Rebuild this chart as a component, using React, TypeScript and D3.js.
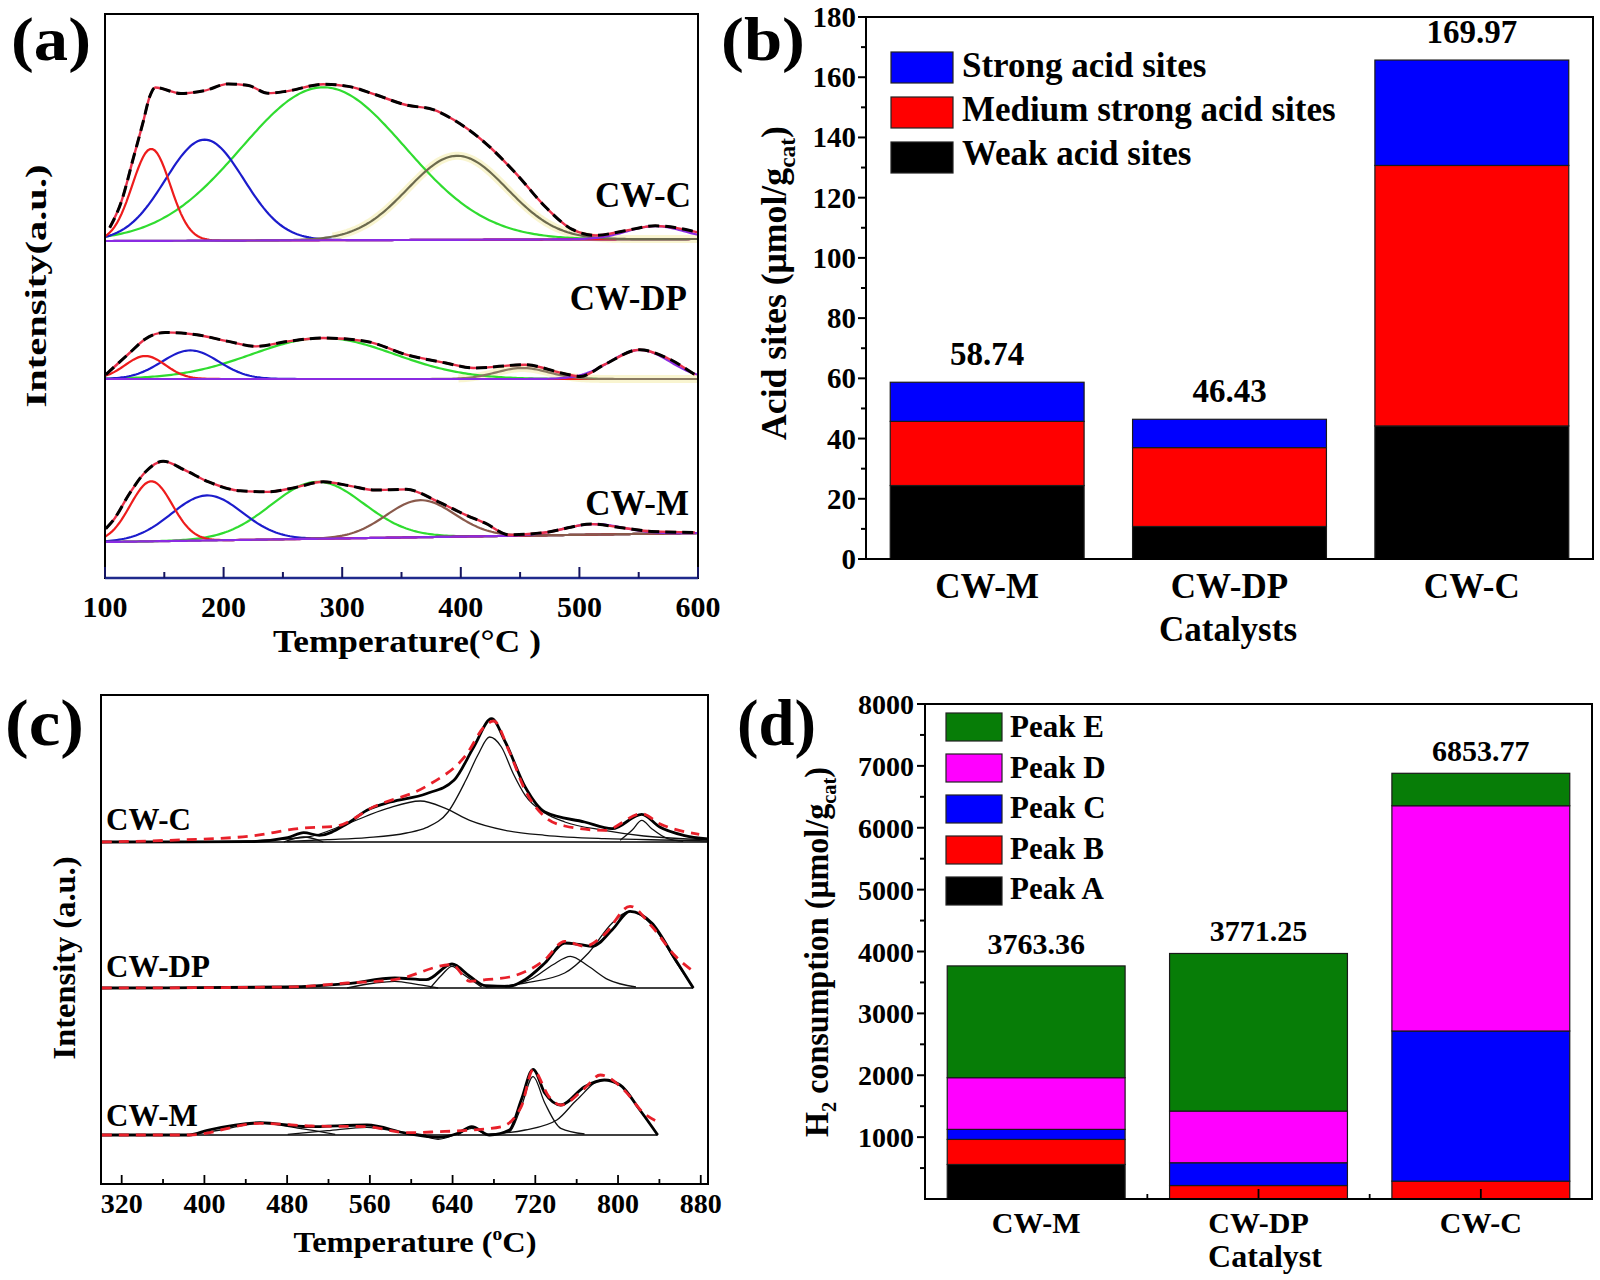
import React from 'react';
import * as d3 from 'd3';

const FONT = "'Liberation Serif', 'Times New Roman', Times, serif";

// ================= (a) NH3-TPD =================
const tpdTicks = [100, 200, 300, 400, 500, 600];
const tpdMinorTicks = [150, 250, 350, 450, 550];
const tpdSampleNames = ['CW-C', 'CW-DP', 'CW-M'];
// baseline level (a.u.) at 100 °C and at 600 °C
const tpdBaseCWC = [337, 339];
const tpdBaseCWDP = [199, 199];
const tpdBaseCWM = [36, 45];
// fitted gaussian peaks: [centre °C, height a.u., sigma °C]
const tpdPeaksCWC = [[139, 92, 16], [184, 101, 33], [284, 153, 69], [397, 84, 42], [564, 13, 24]];
const tpdPeaksCWDP = [[134, 23, 17], [172, 28.6, 24], [284, 41, 60], [452, 11, 22], [551, 29, 25]];
const tpdPeaksCWM = [[139, 60, 17.7], [186, 45, 30], [279, 57, 39], [366, 37, 29], [512, 10.5, 25]];
// measured profiles: [°C, height above baseline]
const tpdProfileCWC = [[104, 13.3], [114, 40], [124, 83.3], [132.4, 120], [137.4, 143.3], [142.4, 153.3], [164, 147.3], [184, 150], [204, 156.7], [221, 155], [237.4, 147.3], [254, 149.3], [284, 156], [307.4, 153.3], [327.4, 145.7], [354, 135], [377.4, 130], [394, 120], [420.7, 96.7], [447.4, 65], [470.8, 33.3], [494, 10], [514, 4], [537.4, 8.3], [564, 13.3], [600, 6.7]];
const tpdProfileCWDP = [[100.7, 4.3], [120.7, 26], [134, 40], [150.7, 46.6], [177.4, 44.3], [204, 37.6], [227.4, 32.6], [254, 37.6], [284, 41], [320.7, 37.6], [354, 24.3], [387.4, 16], [410.7, 11], [454, 14.3], [487.4, 5.3], [500.8, 2.6], [521, 14.3], [550.8, 29.3], [574, 21], [597.4, 4.3]];
const tpdProfileCWM = [[100.7, 13.4], [107, 21.6], [120.7, 48.1], [134, 69.4], [149, 79.9], [167.4, 70.6], [187.4, 58.5], [214, 49.1], [237.4, 47.7], [260.7, 51.7], [284, 56.9], [307.4, 52.2], [327.4, 47.9], [354, 48.1], [380.7, 35.3], [404, 21.6], [420.7, 13], [440.7, 1], [470.8, 2.8], [510.8, 10.5], [537.4, 6.1], [560.8, 2.3], [597.4, 0.6]];

// ================= (b) acid sites =================
const acidCategories = ['CW-M', 'CW-DP', 'CW-C'];
const weakAcid = [24.4, 10.8, 44.2];
const mediumAcid = [21.3, 26.2, 86.5];
const strongAcid = [13.0, 9.4, 35.0];
const acidTotalLabels = ['58.74', '46.43', '169.97'];
const acidTicks = [0, 20, 40, 60, 80, 100, 120, 140, 160, 180];
const acidMinorTicks = [10, 30, 50, 70, 90, 110, 130, 150, 170];
const acidLegend = ['Strong acid sites', 'Medium strong acid sites', 'Weak acid sites'];

// ================= (c) H2-TPR =================
const tprTicks = [320, 400, 480, 560, 640, 720, 800, 880];
const tprMinorTicks = [360, 440, 520, 600, 680, 760, 840];
const tprSampleNames = ['CW-C', 'CW-DP', 'CW-M'];
const tprOffsetCWC = 342;
const tprOffsetCWDP = 196;
const tprOffsetCWM = 49;
const tprBaseEndCWC = [300, 887];
const tprBaseEndCWDP = [300, 872.8];
const tprBaseEndCWM = [300, 838.4];
const tprMeasuredCWC = [[300.8, 0], [442.4, 0.3], [480.6, 4.3], [496, 9.3], [511.2, 6.7], [538, 18.3], [557.2, 31.7], [580, 40], [614.5, 48.3], [641.3, 61.7], [660.5, 95], [677.7, 123.3], [691, 100], [710.2, 55], [729.3, 30], [767.6, 20], [794.4, 13.3], [823, 27.7], [840.3, 15], [863.2, 6.7], [887, 3]];
const tprFitCWC = [[300.8, 0], [365.9, 1.7], [442.4, 5.7], [496, 14], [526.5, 15.7], [564.8, 35.7], [614.5, 55.7], [652.8, 86.7], [672, 116.7], [679.6, 121], [695, 90], [710.2, 51.7], [729.3, 25], [748.5, 16], [786.7, 11.7], [823, 28.3], [840.3, 18.3], [878.5, 7.7]];
const tprPeaksCWC = [
  [[476.8, 0], [496, 5], [515, 0]],
  [[400, 0], [442.4, 1], [499.8, 5], [538, 18.3], [576.3, 33.3], [608.8, 41], [633.7, 33.3], [656.6, 21.7], [691, 11.7], [729.3, 6.7], [786.7, 3.3], [863.2, 1.7], [887, 1]],
  [[480, 0.5], [518.9, 2.3], [557.2, 4.3], [595.4, 9], [614.5, 14.3], [635.6, 30], [652.8, 61.7], [664.3, 86.7], [675.8, 105], [687.2, 95], [698.7, 68.3], [710.2, 46.7], [729.3, 29], [748.5, 20], [786.7, 11.7], [825, 6], [886.2, 2.3]],
  [[802, 1.7], [813.5, 11.7], [823, 21.7], [832.6, 13.3], [848, 3.3], [863, 0.7]],
];
const tprMeasuredCWDP = [[300.8, 0], [480.6, 1], [538, 4.3], [584, 10], [614.5, 8.3], [639.4, 24], [656.6, 11.7], [672, 2.3], [695, 1.7], [710, 8.3], [729.3, 25], [748.4, 45], [763.8, 43.3], [775.2, 41.7], [794.4, 58.3], [811.6, 76.7], [832.6, 65], [855.6, 28.3], [872.8, 0]];
const tprFitCWDP = [[300.8, 0], [480.6, 1], [538, 5], [584, 8.3], [639.4, 23.3], [656.6, 6.7], [672, 8.3], [695, 11], [729.3, 28.3], [748.4, 46.7], [767.6, 41.7], [786.7, 53.3], [811.6, 81.7], [832.6, 61.7], [855.6, 31.7], [872.8, 16.7]];
const tprPeaksCWDP = [
  [[538, 0], [564.8, 5], [584, 6.7], [606.9, 3.3], [626, 0]],
  [[618.4, 0], [629.8, 13.3], [639.4, 21.7], [650.9, 13.3], [668.1, 1]],
  [[691, 1], [717.9, 10], [737, 23.3], [754, 31.7], [771.4, 21.7], [790.5, 8.3], [817.3, 1]],
  [[672, 0.7], [710.2, 5], [748.4, 15], [771.4, 35], [794.4, 65], [811.6, 76.7], [832.6, 63.3], [855.6, 26.7], [872.8, 0]],
];
const tprMeasuredCWM = [[300.8, 0], [385, 0], [404, 5], [453.8, 12.3], [499.8, 8.3], [557.2, 10], [595.4, 1.7], [626, -2.3], [645.2, 1.7], [658.5, 8.3], [675.8, 0], [695, 5], [706.4, 35], [717.8, 65.7], [729.3, 41.7], [744.6, 30], [767.6, 48.3], [786.7, 55], [802, 50], [821.1, 25], [838.4, 0]];
const tprFitCWM = [[300.8, 0], [385, 0], [453.8, 11.7], [503.6, 9], [557.2, 8.3], [595.4, 2.3], [626, 3.3], [658.5, 5], [687.2, 8.3], [706.4, 28.3], [717.8, 65], [733.2, 38.3], [744.6, 30], [767.6, 46.7], [782.9, 60], [805.8, 45], [825, 21.7], [838.4, 13.3]];
const tprPeaksCWM = [
  [[385, 0], [415.6, 5], [453.8, 11.7], [492, 6.7], [526.5, 0.7]],
  [[480.6, 0.7], [518.9, 4.3], [557.2, 7.7], [587.8, 3.3], [614.5, 0]],
  [[610.7, 0], [626, -4.3], [641.3, 0]],
  [[645.2, 0], [658.5, 6.7], [672, 0]],
  [[672, 0], [695, 3.3], [706.4, 28.3], [717.8, 58.3], [729.3, 31.7], [744.6, 6.7], [767.6, 1]],
  [[672, 0.7], [710.2, 5], [740.8, 15], [760, 35], [784.8, 55], [802, 50], [821.1, 25], [838.4, 0]],
];

// ================= (d) H2 consumption =================
const h2Categories = ['CW-M', 'CW-DP', 'CW-C'];
const peakA = [558, 0, 0];
const peakB = [405, 218, 288];
const peakC = [162, 368, 2427];
const peakD = [836, 835, 3641];
const peakE = [1806, 2547, 524];
const h2TotalLabels = ['3763.36', '3771.25', '6853.77'];
const h2Ticks = [1000, 2000, 3000, 4000, 5000, 6000, 7000, 8000];
const h2MinorTicks = [500, 1500, 2500, 3500, 4500, 5500, 6500, 7500];
const h2Legend = ['Peak E', 'Peak D', 'Peak C', 'Peak B', 'Peak A'];

type Pt = [number, number];

const T = (props: any) => (
  <text fontFamily={FONT} fontWeight="bold" fill="#000" {...props} />
);

function PanelA() {
  const x = d3.scaleLinear().domain([100, 600]).range([105, 698]);
  const y = d3.scaleLinear().domain([0, 564]).range([578, 14]);
  const colors = ['#ee1c1c', '#1c1ccc', '#30dc30', null, '#8a2be2'];
  const samples = [
    { name: tpdSampleNames[0], base: tpdBaseCWC, peaks: tpdPeaksCWC, prof: tpdProfileCWC, olive: '#6c6a4e', glow: true },
    { name: tpdSampleNames[1], base: tpdBaseCWDP, peaks: tpdPeaksCWDP, prof: tpdProfileCWDP, olive: '#8a7a62', glow: true },
    { name: tpdSampleNames[2], base: tpdBaseCWM, peaks: tpdPeaksCWM, prof: tpdProfileCWM, olive: '#8a5a4c', glow: false },
  ];
  const baseAt = (b: number[], t: number) => b[0] + ((b[1] - b[0]) * (t - 100)) / 500;
  const grid = d3.range(100, 600.01, 2);
  const line = d3.line<Pt>().x((d) => x(d[0])).y((d) => y(d[1]));
  const smooth = d3.line<Pt>().x((d) => x(d[0])).y((d) => y(d[1])).curve(d3.curveMonotoneX);
  const labelPos = [
    { x: 691, y: 207 },
    { x: 687, y: 310 },
    { x: 689, y: 515 },
  ];
  return (
    <g>
      {samples.map((s, si) => {
        const gauss = (p: number[], t: number) => [t, baseAt(s.base, t) + p[1] * Math.exp(-((t - p[0]) ** 2) / (2 * p[2] ** 2))] as Pt;
        const comp = (p: number[]) => line(grid.map((t) => gauss(p, t)));
        const glowPts = grid.filter((t) => t >= s.peaks[3][0] - 2.5 * s.peaks[3][2]).map((t) => gauss(s.peaks[3], t));
        const env = s.prof.map((d) => [d[0], baseAt(s.base, d[0]) + d[1]] as Pt);
        return (
          <g key={s.name}>
            {s.glow && <path d={line(glowPts) || ''} fill="none" stroke="#f7f3c4" strokeWidth={8} opacity={0.8} />}
            {[2, 1, 0, 3, 4].map((k) => (
              <path key={k} d={comp(s.peaks[k]) || ''} fill="none" stroke={k === 3 ? s.olive : (colors[k] as string)} strokeWidth={2.2} />
            ))}
            <path d={smooth(env) || ''} fill="none" stroke="#e8304a" strokeWidth={2.4} />
            <path d={smooth(env) || ''} fill="none" stroke="#000" strokeWidth={3} strokeDasharray="11 6" />
            <T x={labelPos[si].x} y={labelPos[si].y} fontSize={35} textAnchor="end">{s.name}</T>
          </g>
        );
      })}
      <rect x={105} y={14} width={593} height={564} fill="none" stroke="#000" strokeWidth={2} />
      <line x1={105} x2={698} y1={578} y2={578} stroke="#1f2a8c" strokeWidth={2.4} />
      {tpdTicks.map((t) => (
        <g key={t}>
          <line x1={x(t)} x2={x(t)} y1={578} y2={567} stroke="#151560" strokeWidth={2} />
          <T x={x(t)} y={617} fontSize={30} textAnchor="middle">{t}</T>
        </g>
      ))}
      {tpdMinorTicks.map((t) => (
        <line key={t} x1={x(t)} x2={x(t)} y1={578} y2={572} stroke="#151560" strokeWidth={2} />
      ))}
      <T x={407} y={652} fontSize={31} textAnchor="middle" textLength={268} lengthAdjust="spacingAndGlyphs">
        Temperature(°C<tspan dx={8}>)</tspan>
      </T>
      <T transform="translate(46,286) rotate(-90)" fontSize={30} textAnchor="middle" textLength={243} lengthAdjust="spacingAndGlyphs">
        Intensity(a.u.)
      </T>
      <T x={11} y={60} fontSize={62} textLength={80} lengthAdjust="spacingAndGlyphs">(a)</T>
    </g>
  );
}

function PanelB() {
  const x = d3.scaleBand<string>().domain(acidCategories).range([866, 1593]).paddingInner(0.2).paddingOuter(0.1);
  const y = d3.scaleLinear().domain([0, 180]).range([559, 17]);
  const rows = acidCategories.map((c, i) => ({ cat: c, weak: weakAcid[i], medium: mediumAcid[i], strong: strongAcid[i] }));
  const series = d3.stack<any>().keys(['weak', 'medium', 'strong'])(rows);
  const fills: Record<string, string> = { weak: '#000000', medium: '#ff0000', strong: '#0000ff' };
  const legendFills = ['#0000ff', '#ff0000', '#000000'];
  const totals = rows.map((r) => r.weak + r.medium + r.strong);
  return (
    <g>
      {series.map((s) =>
        s.map((d: any) => (
          <rect key={s.key + d.data.cat} x={x(d.data.cat)} y={y(d[1])} width={x.bandwidth()} height={y(d[0]) - y(d[1])}
            fill={fills[s.key]} stroke="#1a1a1a" strokeWidth={1.2} />
        ))
      )}
      {acidCategories.map((c, i) => (
        <g key={c}>
          <T x={(x(c) as number) + x.bandwidth() / 2} y={y(totals[i]) - 17} fontSize={33} textAnchor="middle">{acidTotalLabels[i]}</T>
          <T x={(x(c) as number) + x.bandwidth() / 2} y={598} fontSize={35} textAnchor="middle">{c}</T>
        </g>
      ))}
      <rect x={866} y={17} width={727} height={542} fill="none" stroke="#000" strokeWidth={2} />
      {acidTicks.map((t) => (
        <g key={t}>
          <line x1={866} x2={858} y1={y(t)} y2={y(t)} stroke="#000" strokeWidth={2} />
          <T x={856} y={y(t) + 10} fontSize={29} textAnchor="end">{t}</T>
        </g>
      ))}
      {acidMinorTicks.map((t) => (
        <line key={t} x1={866} x2={861} y1={y(t)} y2={y(t)} stroke="#000" strokeWidth={2} />
      ))}
      {acidLegend.map((l, i) => (
        <g key={l}>
          <rect x={891} y={52 + i * 45} width={62} height={31} fill={legendFills[i]} stroke="#222" strokeWidth={1.2} />
          <T x={962} y={77 + i * 44} fontSize={35}>{l}</T>
        </g>
      ))}
      <T x={1228} y={641} fontSize={35} textAnchor="middle">Catalysts</T>
      <T transform="translate(786,283) rotate(-90)" fontSize={35} textAnchor="middle" textLength={314} lengthAdjust="spacingAndGlyphs">
        Acid sites (μmol/g<tspan fontSize={23} dy={9}>cat</tspan><tspan dy={-9}>)</tspan>
      </T>
      <T x={721} y={60} fontSize={62} textLength={84} lengthAdjust="spacingAndGlyphs">(b)</T>
    </g>
  );
}

function PanelC() {
  const x = d3.scaleLinear().domain([300, 887]).range([101, 708]);
  const y = d3.scaleLinear().domain([0, 489]).range([1184, 695]);
  const samples = [
    { name: tprSampleNames[0], off: tprOffsetCWC, end: tprBaseEndCWC, meas: tprMeasuredCWC, fit: tprFitCWC, peaks: tprPeaksCWC, ly: 830 },
    { name: tprSampleNames[1], off: tprOffsetCWDP, end: tprBaseEndCWDP, meas: tprMeasuredCWDP, fit: tprFitCWDP, peaks: tprPeaksCWDP, ly: 977 },
    { name: tprSampleNames[2], off: tprOffsetCWM, end: tprBaseEndCWM, meas: tprMeasuredCWM, fit: tprFitCWM, peaks: tprPeaksCWM, ly: 1126 },
  ];
  return (
    <g>
      {samples.map((s) => {
        const line = d3.line<number[]>().x((d) => x(d[0])).y((d) => y(d[1] + s.off)).curve(d3.curveMonotoneX);
        return (
          <g key={s.name}>
            <line x1={x(s.end[0])} x2={x(s.end[1])} y1={y(s.off)} y2={y(s.off)} stroke="#000" strokeWidth={1.4} />
            {s.peaks.map((p, i) => (
              <path key={i} d={line(p) || ''} fill="none" stroke="#111" strokeWidth={1.3} />
            ))}
            <path d={line(s.meas) || ''} fill="none" stroke="#000" strokeWidth={2.8} />
            <path d={line(s.fit) || ''} fill="none" stroke="#e8202a" strokeWidth={2.8} strokeDasharray="10 7" />
            <T x={106} y={s.ly} fontSize={31}>{s.name}</T>
          </g>
        );
      })}
      <rect x={101} y={695} width={607} height={489} fill="none" stroke="#000" strokeWidth={2} />
      {tprTicks.map((t) => (
        <g key={t}>
          <line x1={x(t)} x2={x(t)} y1={1184} y2={1175} stroke="#000" strokeWidth={1.8} />
          <T x={x(t)} y={1213} fontSize={28} textAnchor="middle">{t}</T>
        </g>
      ))}
      {tprMinorTicks.map((t) => (
        <line key={t} x1={x(t)} x2={x(t)} y1={1184} y2={1179} stroke="#000" strokeWidth={1.8} />
      ))}
      <T x={415} y={1252} fontSize={30} textAnchor="middle" textLength={243} lengthAdjust="spacingAndGlyphs">
        Temperature (<tspan fontSize={18} dy={-12}>o</tspan><tspan dy={12}>C)</tspan>
      </T>
      <T transform="translate(75,958) rotate(-90)" fontSize={32} textAnchor="middle" textLength={203} lengthAdjust="spacingAndGlyphs">
        Intensity (a.u.)
      </T>
      <T x={5} y={745} fontSize={66} textLength={79} lengthAdjust="spacingAndGlyphs">(c)</T>
    </g>
  );
}

function PanelD() {
  const x = d3.scaleBand<string>().domain(h2Categories).range([925, 1592]).paddingInner(0.2).paddingOuter(0.1);
  const y = d3.scaleLinear().domain([0, 8000]).range([1199, 704]);
  const rows = h2Categories.map((c, i) => ({ cat: c, A: peakA[i], B: peakB[i], C: peakC[i], D: peakD[i], E: peakE[i] }));
  const keys = ['A', 'B', 'C', 'D', 'E'];
  const series = d3.stack<any>().keys(keys)(rows);
  const fills: Record<string, string> = { A: '#000000', B: '#ff0000', C: '#0000ff', D: '#ff00ff', E: '#077d07' };
  const legendFills = ['#077d07', '#ff00ff', '#0000ff', '#ff0000', '#000000'];
  const totals = rows.map((r) => r.A + r.B + r.C + r.D + r.E);
  const step = x.step();
  return (
    <g>
      {series.map((s) =>
        s.map((d: any) =>
          d[1] - d[0] > 0 ? (
            <rect key={s.key + d.data.cat} x={x(d.data.cat)} y={y(d[1])} width={x.bandwidth()} height={y(d[0]) - y(d[1])}
              fill={fills[s.key]} stroke="#1a1a1a" strokeWidth={1.2} />
          ) : null
        )
      )}
      {h2Categories.map((c, i) => {
        const cx = (x(c) as number) + x.bandwidth() / 2;
        return (
          <g key={c}>
            <line x1={cx} x2={cx} y1={1199} y2={1189} stroke="#000" strokeWidth={1.8} />
            {i > 0 && <line x1={cx - step / 2} x2={cx - step / 2} y1={1199} y2={1194} stroke="#000" strokeWidth={1.8} />}
            <T x={cx} y={y(totals[i]) - 12} fontSize={30} textAnchor="middle">{h2TotalLabels[i]}</T>
            <T x={cx} y={1233} fontSize={30} textAnchor="middle">{c}</T>
          </g>
        );
      })}
      <rect x={925} y={704} width={667} height={495} fill="none" stroke="#000" strokeWidth={2} />
      {h2Ticks.map((t) => (
        <g key={t}>
          <line x1={925} x2={917} y1={y(t)} y2={y(t)} stroke="#000" strokeWidth={2} />
          <T x={914} y={y(t) + 10} fontSize={28} textAnchor="end">{t}</T>
        </g>
      ))}
      {h2MinorTicks.map((t) => (
        <line key={t} x1={925} x2={920} y1={y(t)} y2={y(t)} stroke="#000" strokeWidth={2} />
      ))}
      {h2Legend.map((l, i) => (
        <g key={l}>
          <rect x={946} y={713 + i * 41} width={56} height={28} fill={legendFills[i]} stroke="#222" strokeWidth={1.2} />
          <T x={1010} y={737 + i * 40.6} fontSize={31}>{l}</T>
        </g>
      ))}
      <T x={1265} y={1267} fontSize={32} textAnchor="middle">Catalyst</T>
      <T transform="translate(828,952) rotate(-90)" fontSize={33} textAnchor="middle" textLength={370} lengthAdjust="spacingAndGlyphs">
        H<tspan fontSize={21} dy={8}>2</tspan><tspan dy={-8}> consumption (μmol/g</tspan><tspan fontSize={21} dy={8}>cat</tspan><tspan dy={-8}>)</tspan>
      </T>
      <T x={737} y={745} fontSize={66} textLength={79} lengthAdjust="spacingAndGlyphs">(d)</T>
    </g>
  );
}

export default function App() {
  return (
    <svg width={1600} height={1280} viewBox="0 0 1600 1280" style={{ position: 'absolute', left: 0, top: 0, background: '#fff' }}>
      <rect x={0} y={0} width={1600} height={1280} fill="#fff" />
      <PanelA />
      <PanelB />
      <PanelC />
      <PanelD />
    </svg>
  );
}
